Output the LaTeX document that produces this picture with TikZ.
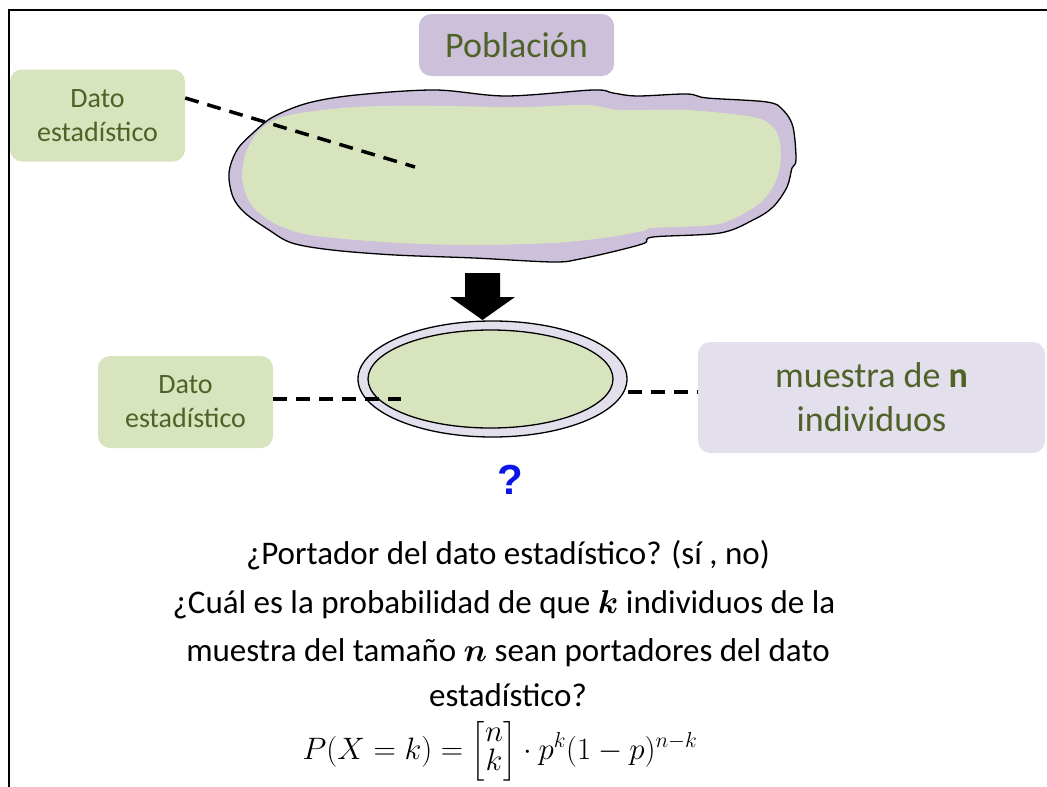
\RequirePackage{fix-cm}
\documentclass[tikz,border=0pt]{standalone}
\usepackage{amsmath}
\usepackage{fontspec}
\setmainfont{Carlito}
\setsansfont{Liberation Sans}
\usetikzlibrary{shapes.geometric}
\definecolor{greenfill}{HTML}{D7E4BD}
\definecolor{textgreen}{HTML}{4F6228}
\definecolor{purplefill}{HTML}{CCC0DA}
\definecolor{lavfill}{HTML}{E4DFEC}
\definecolor{qblue}{HTML}{0A14E6}
\tikzset{
  box/.style={rounded corners=12pt, inner sep=0pt, text=textgreen, align=center},
  datobox/.style={box, fill=greenfill, minimum width=175pt, minimum height=92pt, font=\fontsize{28}{34}\selectfont},
  dashline/.style={line width=3.5pt, dash pattern=on 14pt off 9pt},
  bodytext/.style={anchor=base, inner sep=0pt, font=\fontsize{33}{38}\selectfont},
}
\begin{document}
\begin{tikzpicture}[x=1pt,y=-1pt]
\useasboundingbox (0,0) rectangle (1047,787);
% frame
\draw[line width=2pt] (9,787) -- (9,10) -- (1047,10);
% population blob
\draw[fill=purplefill, line width=1.3pt]
  plot[smooth cycle, tension=0.55] coordinates {
  (273,117) (308,103) (356,95) (435,90) (506,96) (593,90) (613,93) (637,96)
  (687,94) (707,98) (767,102) (783,110) (793,127) (796,160) (792,168) (787,187)
  (773,207) (753,220) (720,233) (653,237) (645,243) (620,250) (580,259) (553,262)
  (474,258) (395,255) (332,250) (292,243) (269,230) (245,213) (233,197) (229,173)
  (237,150) (253,133)};
\fill[greenfill]
  plot[smooth cycle, tension=0.55] coordinates {
  (290,115) (356,107) (435,106) (520,107) (587,105) (620,110) (687,110)
  (753,117) (773,127) (780,143) (780,167) (773,187) (760,203) (737,217)
  (713,225) (653,228) (643,231) (603,238) (553,243) (474,245) (400,243)
  (316,236) (280,226) (258,212) (247,197) (242,175) (247,150) (262,128)};
% Poblacion
\node[box, fill=purplefill, minimum width=195pt, minimum height=62pt,
  font=\fontsize{36}{40}\selectfont] (pob) at (516.5,45) {Población};
% top dato box
\node[datobox] (dato1) at (97.5,115.5) {Dato\\estadístico};
\coordinate (popin) at (415,167);
\draw[dashline] (dato1.east |- 0,98) -- (popin);
% arrow
\fill (465,273) -- (500,273) -- (500,297) -- (515,297) -- (482.5,320)
  -- (450,297) -- (465,297) -- cycle;
% sample ellipse
\node[ellipse, draw=black, line width=1.3pt, fill=lavfill,
  minimum width=269pt, minimum height=116pt, inner sep=0pt] (outer) at (492.5,379) {};
\node[ellipse, draw=black, line width=1.3pt, fill=greenfill,
  minimum width=245pt, minimum height=98pt, inner sep=0pt] (inner) at (490.5,379) {};
% bottom dato box
\node[datobox] (dato2) at (185.5,402) {Dato\\estadístico};
\coordinate (samplein) at (401,399);
\draw[dashline] (dato2.east |- 0,399) -- (samplein);
% muestra box
\node[box, fill=lavfill, minimum width=347pt, minimum height=111pt,
  font=\fontsize{36}{44}\selectfont] (muestra) at (871.5,397.5)
  {muestra de \textbf{n}\\individuos};
\draw[dashline] (outer.east |- 0,392) -- (muestra.west |- 0,392);
% question mark
\node[text=qblue, font=\sffamily\bfseries\fontsize{42}{46}\selectfont, inner sep=0pt] (q) at (510,480) {?};
% text
\node[bodytext] (l1) at (508,564) {¿Portador del dato estadístico? (sí , no)};
\node[bodytext] (l2) at (504,613) {¿Cuál es la probabilidad de que $\boldsymbol{k}$ individuos de la};
\node[bodytext] (l3) at (508,661) {muestra del tamaño $\boldsymbol{n}$ sean portadores del dato};
\node[bodytext] (l4) at (508,706) {estadístico?};
\node[anchor=base, inner sep=0pt, font=\fontsize{31}{36}\selectfont] (f) at (500,759)
  {\renewcommand{\arraystretch}{0.64}%
   $P(X=k)=\left[\begin{array}{@{}c@{}}n\\k\end{array}\right]\cdot p^k(1-p)^{n-k}$};
\end{tikzpicture}
\end{document}
